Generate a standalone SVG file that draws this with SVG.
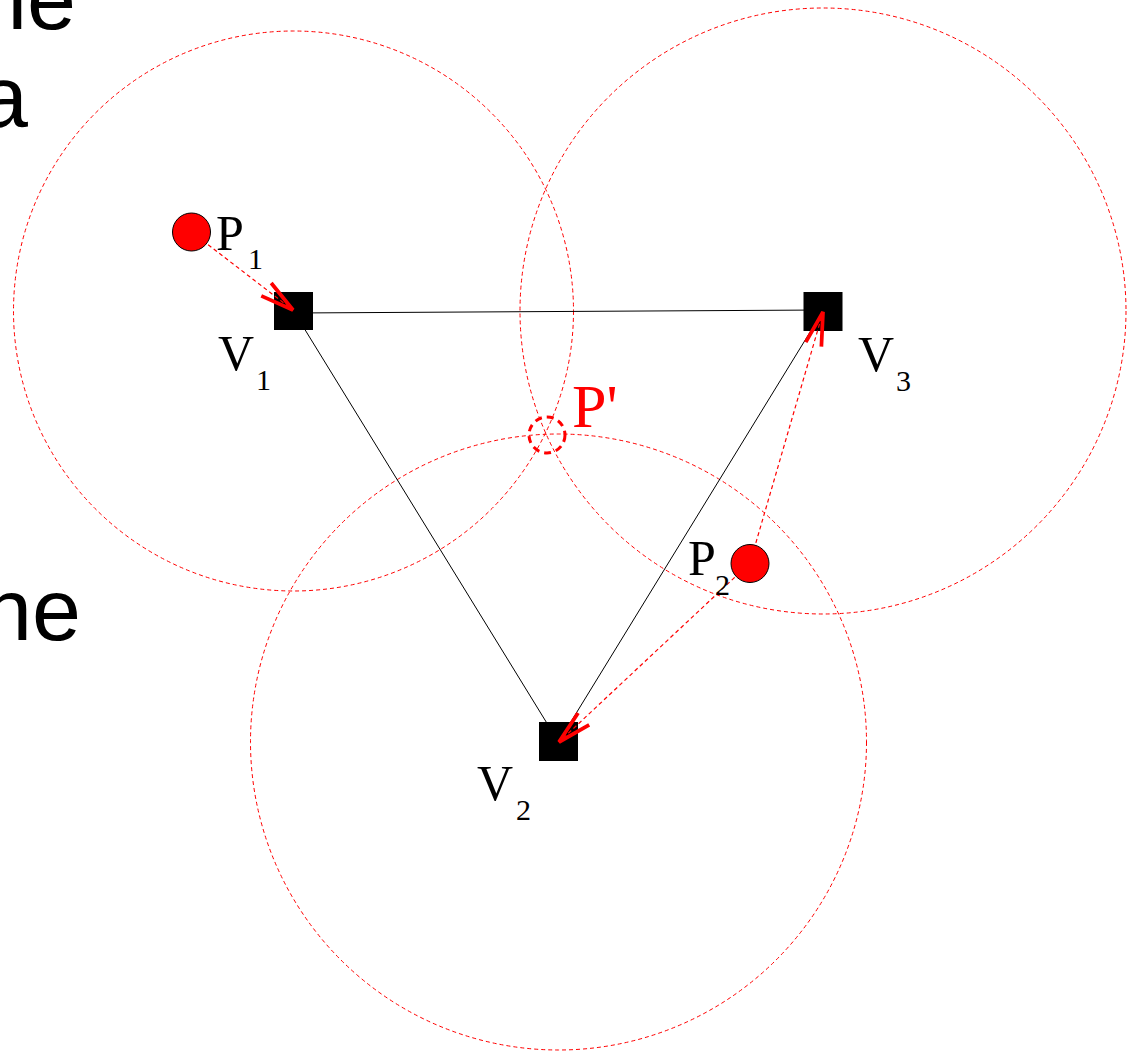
<svg xmlns="http://www.w3.org/2000/svg" width="1133" height="1052" viewBox="0 0 1133 1052">
<defs>
<style>
.bg{font-family:"Liberation Sans",Arial,sans-serif;font-size:88px;fill:#000}
.range{fill:none;stroke:#ff0000;stroke-width:1;stroke-dasharray:4 3}
.edge{stroke:#000;stroke-width:1;fill:none}
.vtx{fill:#000}
.pt{fill:#ff0000;stroke:#000;stroke-width:1}
.arrow{stroke:#ff0000;stroke-width:1.2;stroke-dasharray:4 3;fill:none;marker-end:url(#ah)}
.lbl{font-family:"Liberation Serif","Times New Roman",serif;font-size:50px;fill:#000}
.sub{font-family:"Liberation Serif","Times New Roman",serif;font-size:30px;fill:#000}
</style>
<marker id="ah" markerUnits="userSpaceOnUse" markerWidth="40" markerHeight="40" refX="0" refY="0" viewBox="-30 -10 32 20" orient="auto" overflow="visible">
<path d="M-27,-6.5 L0,0 L-27,6.5" fill="none" stroke="#ff0000" stroke-width="3"/>
</marker>
</defs>
<rect width="1133" height="1052" fill="#fff"/>
<g id="background-text">
<text class="bg" x="76" y="29" text-anchor="end">ne</text>
<text class="bg" x="28" y="127" text-anchor="end">a</text>
<text class="bg" x="81" y="640" text-anchor="end">ne</text>
</g>
<g id="ranges">
<circle class="range" cx="293.5" cy="311" r="280"/>
<circle class="range" cx="823" cy="311" r="303"/>
<circle class="range" cx="558.5" cy="742" r="308"/>
</g>
<g id="edges">
<line class="edge" x1="293.5" y1="313" x2="823" y2="310"/>
<line class="edge" x1="293.5" y1="311" x2="558.5" y2="742"/>
<line class="edge" x1="823" y1="311" x2="558.5" y2="742"/>
</g>
<g id="V1"><rect class="vtx" x="274" y="292" width="39" height="38"/>
<text class="lbl" x="218" y="370">V</text><text class="sub" x="256" y="390">1</text></g>
<g id="V3"><rect class="vtx" x="803.5" y="292" width="39" height="39"/>
<text class="lbl" x="858" y="371">V</text><text class="sub" x="896" y="391">3</text></g>
<g id="V2"><rect class="vtx" x="539" y="722" width="39" height="39"/>
<text class="lbl" x="477" y="800">V</text><text class="sub" x="516" y="820">2</text></g>
<g id="connectors">
<line class="arrow" x1="191.5" y1="232" x2="293" y2="310"/>
<line class="arrow" x1="750" y1="563" x2="823" y2="312"/>
<line class="arrow" x1="750" y1="563" x2="559" y2="742"/>
</g>
<g id="P1"><circle class="pt" cx="191.5" cy="232" r="19"/>
<text class="lbl" x="216" y="250">P</text><text class="sub" x="248" y="269">1</text></g>
<g id="P2"><circle class="pt" cx="750" cy="563.5" r="19"/>
<text class="lbl" x="688" y="575">P</text><text class="sub" x="715" y="595">2</text></g>
<g id="Pprime"><circle cx="547" cy="435" r="18" fill="none" stroke="#ff0000" stroke-width="3" stroke-dasharray="7 5"/>
<text x="572" y="427" font-family="Liberation Serif,'Times New Roman',serif" font-size="62" fill="#ff0000">P'</text></g>
</svg>
